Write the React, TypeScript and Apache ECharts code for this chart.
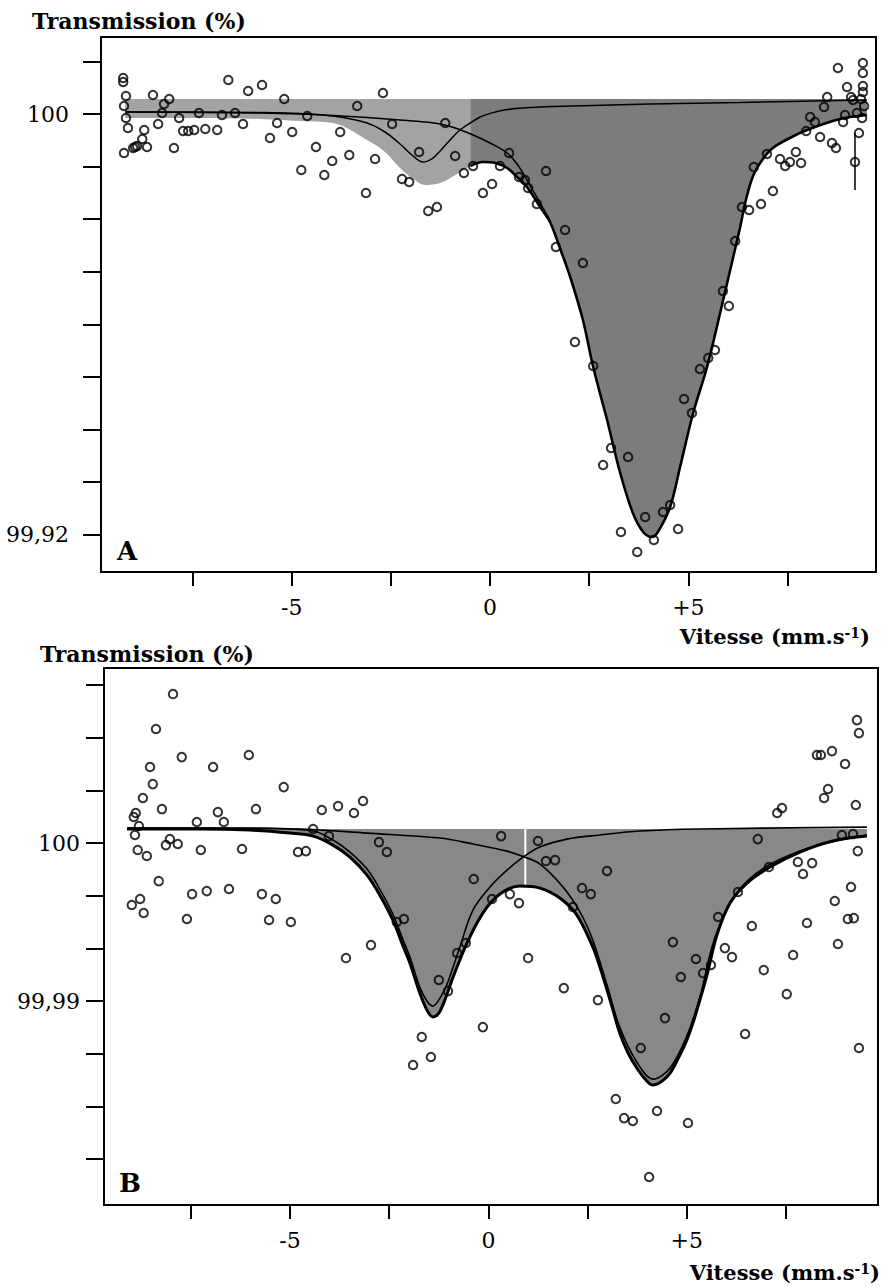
import React, { useEffect, useRef } from 'react';
import * as echarts from 'echarts';

// ---------- axes ----------
const velocityTicks = [-7.5, -5, -2.5, 0, 2.5, 5, 7.5];
const velocityLabels = [-5, 0, 5];
const transTicksA = [99.92, 99.93, 99.94, 99.95, 99.96, 99.97, 99.98, 99.99, 100, 100.01];
const transLabelsA = [99.92, 100];
const transTicksB = [99.98, 99.98333, 99.98667, 99.99, 99.99333, 99.99667, 100, 100.00333, 100.00667, 100.01];
const transLabelsB = [99.99, 100];
const rangeA = { xMin: -9.81, xMax: 9.73, yMin: 99.91293, yMax: 100.01464 };
const rangeB = { xMin: -9.69, xMax: 9.82, yMin: 99.97709, yMax: 100.01108 };
const shadeTopA = 100.00285;
const shadeTopB = 100.00089;
const shadeSplitA = -0.5;

// ---------- panel A ----------
const scatterA: [number, number][] = [
  [-9.25, 100.00684], [-9.25, 100.00608], [-9.18, 100.00342], [-9.23, 100.00152], [-9.18, 99.99924],
  [-9.13, 99.99734], [-9.23, 99.99259], [-9.0, 99.99354], [-8.95, 99.99373], [-8.9, 99.99392],
  [-8.77, 99.99525], [-8.72, 99.99696], [-8.65, 99.99373], [-8.5, 100.00361], [-8.37, 99.9981],
  [-8.27, 100.00019], [-8.22, 100.0019], [-8.09, 100.00285], [-7.97, 99.99354], [-7.84, 99.99924],
  [-7.74, 99.99677], [-7.61, 99.99677], [-7.46, 99.99696], [-7.34, 100.00019], [-7.18, 99.99715],
  [-6.88, 99.99696], [-6.76, 99.99981], [-6.6, 100.00646], [-6.43, 100.00019], [-6.23, 99.9981],
  [-6.1, 100.00437], [-5.75, 100.00551], [-5.55, 99.99544], [-5.37, 99.99829], [-5.19, 100.00285],
  [-4.99, 99.99658], [-4.76, 99.98935], [-4.61, 99.99962], [-4.39, 99.99373], [-4.18, 99.9884],
  [-3.98, 99.99106], [-3.78, 99.99658], [-3.55, 99.99221], [-3.35, 100.00152], [-3.13, 99.98498],
  [-2.9, 99.99145], [-2.7, 100.00399], [-2.47, 99.9981], [-2.22, 99.98764], [-2.04, 99.98707],
  [-1.79, 99.99278], [-1.56, 99.98156], [-1.34, 99.98232], [-1.13, 99.99829], [-0.88, 99.99202],
  [-0.66, 99.98878], [-0.43, 99.99011], [-0.18, 99.98498], [0.05, 99.98669], [0.25, 99.99011],
  [0.48, 99.99259], [0.73, 99.98802], [0.88, 99.98745], [0.96, 99.98593], [1.18, 99.98289],
  [1.41, 99.98916], [1.66, 99.97472], [1.89, 99.97795], [2.34, 99.97167], [2.14, 99.95665],
  [2.6, 99.95209], [3.05, 99.9365], [3.48, 99.93479], [2.85, 99.93327], [3.71, 99.91673],
  [3.3, 99.92053], [3.91, 99.92339], [4.13, 99.91901], [4.36, 99.92434], [4.54, 99.92567],
  [4.74, 99.9211], [4.89, 99.94582], [5.09, 99.94316], [5.29, 99.95152], [5.5, 99.95361],
  [5.67, 99.95513], [5.87, 99.96635], [6.02, 99.9635], [6.18, 99.97586], [6.35, 99.98232],
  [6.53, 99.98175], [6.65, 99.98992], [6.83, 99.98289], [6.98, 99.9924], [7.13, 99.98536],
  [7.31, 99.99145], [7.44, 99.99011], [7.56, 99.99087], [7.71, 99.99278], [7.84, 99.99068],
  [7.97, 99.99677], [8.07, 99.99943], [8.19, 99.99848], [8.32, 99.99563], [8.42, 100.00133],
  [8.5, 100.00323], [8.62, 99.99449], [8.72, 99.99354], [8.77, 100.00874], [8.9, 99.99848],
  [8.95, 99.99981], [9.0, 100.00513], [9.1, 100.00323], [9.15, 100.00266], [9.25, 100.00019],
  [9.3, 99.99639], [9.2, 99.99087], [9.35, 100.00285], [9.38, 99.99924], [9.4, 100.0097],
  [9.4, 100.00779], [9.4, 100.00532], [9.4, 100.00418], [9.43, 100.00152],
];
const errorBarA: [number, number][] = [[9.2, 99.98555], [9.2, 99.99639]];
const shadeLowA: [number, number][] = [
  [-9.2, 99.99924], [-7.31, 99.99924], [-5.8, 99.99905], [-4.79, 99.99867], [-3.96, 99.99829],
  [-3.1, 99.99506], [-2.65, 99.99278], [-2.27, 99.98973], [-1.97, 99.98783], [-1.64, 99.9865],
  [-1.26, 99.98688], [-0.88, 99.9884], [-0.5, 99.99011], [-0.18, 99.99087], [0.13, 99.99068],
  [0.43, 99.98973], [0.68, 99.98802], [0.93, 99.98612], [1.26, 99.98232], [1.51, 99.97947],
  [1.76, 99.97453], [2.02, 99.96901], [2.34, 99.96084], [2.6, 99.9519], [2.95, 99.94183],
  [3.28, 99.93175], [3.6, 99.92415], [3.86, 99.92053], [4.08, 99.91958], [4.23, 99.92053],
  [4.54, 99.92529], [4.79, 99.93289], [5.12, 99.94316], [5.47, 99.9519], [5.8, 99.96217],
  [6.13, 99.97281], [6.3, 99.97833], [6.45, 99.98365], [6.63, 99.98821], [6.86, 99.99125],
  [7.13, 99.99354], [7.56, 99.99544], [7.99, 99.99696], [8.82, 99.99905], [9.5, 99.99981],
];
const comp1A: [number, number][] = [
  [-9.2, 100.00038], [-7.31, 100.00038], [-5.8, 100.00029], [-4.79, 100.0001], [-3.96, 99.99962],
  [-3.1, 99.99829], [-2.65, 99.99658], [-2.27, 99.9943], [-1.97, 99.99221], [-1.69, 99.99087],
  [-1.44, 99.99163], [-1.26, 99.99297], [-1.01, 99.99506], [-0.76, 99.99696], [-0.5, 99.99829],
  [-0.25, 99.99943], [0.13, 100.00038], [0.43, 100.00086], [1.01, 100.00124], [2.09, 100.00152],
  [4.03, 100.0019], [6.3, 100.00219], [8.82, 100.00257], [9.5, 100.00266],
];
const comp2A: [number, number][] = [
  [-9.2, 100.00038], [-7.31, 100.00029], [-5.8, 100.00019], [-4.79, 100.0], [-3.96, 99.99971],
  [-3.1, 99.99933], [-2.27, 99.99886], [-1.64, 99.99848], [-1.26, 99.9981], [-0.88, 99.99734],
  [-0.43, 99.99601], [0.0, 99.99449], [0.43, 99.99259], [0.68, 99.99049], [0.93, 99.98745],
  [1.26, 99.98308], [1.51, 99.97985],
];

// ---------- panel B ----------
const scatterB: [number, number][] = [
  [-7.95, 100.00943], [-8.38, 100.00722], [-7.73, 100.00544], [-8.53, 100.00481], [-6.94, 100.00481],
  [-6.04, 100.00557], [9.29, 100.00778], [9.34, 100.00696], [8.28, 100.00557], [8.38, 100.00557],
  [8.66, 100.00582], [8.99, 100.005], [-8.46, 100.00373], [-8.71, 100.00285], [-5.16, 100.00354],
  [-8.89, 100.0019], [-8.94, 100.00165], [-8.23, 100.00215], [-6.82, 100.00196], [-5.86, 100.00215],
  [-4.2, 100.00209], [-3.79, 100.00234], [-3.39, 100.0019], [-3.16, 100.00266], [-7.35, 100.00133],
  [-6.67, 100.00133], [-8.81, 100.00108], [-4.42, 100.00089], [-8.91, 100.00051], [-4.02, 100.00044],
  [-8.03, 100.00025], [-8.13, 99.99987], [-7.83, 99.99994], [-2.76, 100.00006], [-2.56, 99.99943],
  [-8.84, 99.99956], [-7.25, 99.99956], [-6.21, 99.99962], [-4.8, 99.99943], [-4.6, 99.99949],
  [-8.61, 99.99918], [-8.31, 99.99759], [-7.47, 99.99677], [-7.1, 99.99696], [-6.54, 99.99709],
  [-5.71, 99.99677], [-5.36, 99.99646], [-8.78, 99.99646], [-8.99, 99.99608], [-8.69, 99.99557],
  [-7.6, 99.99519], [-5.53, 99.99513], [-4.98, 99.995], [-2.13, 99.99519], [-2.31, 99.995],
  [-2.96, 99.99354], [-3.59, 99.99272], [-1.25, 99.99133], [-1.68, 99.98772], [-1.45, 99.98646],
  [-1.9, 99.98595], [8.56, 100.00342], [8.46, 100.00285], [9.26, 100.00241], [7.4, 100.00222],
  [7.28, 100.0019], [0.32, 100.00044], [1.25, 100.00013], [6.79, 100.00025], [8.91, 100.00051],
  [9.19, 100.00057], [9.31, 99.99949], [1.45, 99.99886], [1.68, 99.99892], [7.8, 99.9988],
  [8.16, 99.99873], [7.93, 99.99804], [7.07, 99.99848], [-0.37, 99.99772], [2.99, 99.99823],
  [2.36, 99.99715], [2.58, 99.99677], [9.14, 99.99722], [0.09, 99.99646], [0.54, 99.99677],
  [0.77, 99.9962], [2.13, 99.99595], [6.29, 99.9969], [8.73, 99.99633], [5.79, 99.99532],
  [6.64, 99.99475], [8.03, 99.99494], [9.06, 99.99519], [9.21, 99.99525], [4.65, 99.99373],
  [8.81, 99.99361], [5.96, 99.99335], [6.14, 99.99278], [5.23, 99.99266], [7.68, 99.99291],
  [-0.57, 99.99367], [-0.79, 99.99304], [1.0, 99.99272], [5.61, 99.99228], [5.41, 99.99177],
  [6.94, 99.99196], [4.85, 99.99152], [1.9, 99.99082], [7.52, 99.99044], [2.76, 99.99006],
  [-1.02, 99.99063], [-0.14, 99.98835], [4.45, 99.98892], [3.84, 99.98703], [6.47, 99.98791],
  [9.34, 99.98703], [3.21, 99.9838], [3.42, 99.98259], [3.64, 99.98241], [4.25, 99.98304],
  [5.03, 99.98228], [4.05, 99.97886],
];
const envelopeB: [number, number][] = [
  [-9.11, 100.00089], [-7.27, 100.00089], [-6.01, 100.00082], [-5.0, 100.00063], [-4.42, 100.00044],
  [-3.92, 99.99987], [-3.49, 99.99911], [-3.06, 99.99797], [-2.74, 99.99671], [-2.41, 99.99513],
  [-2.16, 99.99354], [-1.98, 99.99241], [-1.73, 99.99051], [-1.55, 99.98943], [-1.4, 99.98899],
  [-1.25, 99.98924], [-1.1, 99.99006], [-0.89, 99.99152], [-0.54, 99.99367], [-0.14, 99.99557],
  [0.29, 99.99677], [0.79, 99.99728], [1.3, 99.99715], [1.8, 99.99652], [2.23, 99.99544],
  [2.63, 99.99342], [2.81, 99.99215], [2.99, 99.9907], [3.14, 99.98943], [3.31, 99.98797],
  [3.52, 99.98671], [3.74, 99.98576], [3.95, 99.98506], [4.15, 99.98468], [4.38, 99.98494],
  [4.58, 99.98544], [4.8, 99.98646], [5.0, 99.98753], [5.18, 99.9888], [5.33, 99.99006],
  [5.51, 99.99165], [5.76, 99.99418], [6.09, 99.9962], [6.52, 99.99747], [7.1, 99.99848],
  [7.85, 99.99943], [8.68, 100.00013], [9.54, 100.00044],
];
const comp1B: [number, number][] = [
  [-9.11, 100.00095], [-6.01, 100.00095], [-4.42, 100.00076], [-3.92, 100.00019], [-3.49, 99.99943],
  [-3.06, 99.99835], [-2.74, 99.99709], [-2.41, 99.99551], [-2.16, 99.99392], [-1.98, 99.99278],
  [-1.73, 99.99089], [-1.55, 99.99], [-1.4, 99.98968], [-1.22, 99.99019], [-1.05, 99.99101],
  [-0.72, 99.99342], [-0.39, 99.99576], [0.04, 99.99722], [0.47, 99.99829], [0.84, 99.99905],
  [1.3, 99.99975], [1.98, 100.00025], [2.81, 100.00051], [3.82, 100.00076], [5.33, 100.00089],
  [9.54, 100.00101],
];
const comp2B: [number, number][] = [
  [-9.11, 100.00095], [-6.01, 100.00092], [-4.75, 100.00089], [-3.06, 100.00063], [-1.22, 100.00032],
  [-0.39, 99.99994], [0.47, 99.99949], [0.84, 99.99918], [1.3, 99.99867], [1.88, 99.99722],
  [2.31, 99.99563], [2.63, 99.99386], [2.99, 99.99101], [3.31, 99.98835], [3.74, 99.98614],
  [4.15, 99.98506], [4.58, 99.98576], [5.0, 99.98778], [5.33, 99.99025], [5.76, 99.99437],
  [6.52, 99.99759], [7.85, 99.99949], [9.54, 100.00051],
];
const gapLineB: [number, number][] = [[0.93, 100.00089], [0.93, 99.99728]];

// ---------- styling ----------
const FONT = '"DejaVu Serif", "Liberation Serif", serif';
const transFmt = (v: number) => (v >= 100 ? '100' : v.toFixed(2).replace('.', ','));
const velFmt = (v: number) => (v > 0 ? '+' + v : String(v));

function xAxisCfg(gridIndex: number, r: any) {
  return {
    type: 'value', gridIndex, min: r.xMin, max: r.xMax, position: 'bottom',
    axisLine: { show: true, onZero: false, lineStyle: { color: '#000', width: 2 } },
    axisTick: { show: true, length: 14, lineStyle: { color: '#000', width: 2 }, customValues: velocityTicks },
    axisLabel: { customValues: velocityLabels, formatter: velFmt, margin: 24, fontSize: 22, fontFamily: FONT, color: '#000' },
    splitLine: { show: false },
  };
}
function yAxisCfg(gridIndex: number, r: any, ticks: number[], labels: number[], margin: number) {
  return {
    type: 'value', gridIndex, min: r.yMin, max: r.yMax,
    axisLine: { show: true, onZero: false, lineStyle: { color: '#000', width: 2 } },
    axisTick: { show: true, length: 18, lineStyle: { color: '#000', width: 2 }, customValues: ticks },
    axisLabel: { customValues: labels, formatter: transFmt, margin, fontSize: 22, fontFamily: FONT, color: '#000' },
    splitLine: { show: false },
  };
}
function lineSeries(idx: number, data: [number, number][], width: number, z = 3, color = '#000') {
  return {
    type: 'line', xAxisIndex: idx, yAxisIndex: idx, data, smooth: 0.35, symbol: 'none', z,
    lineStyle: { color, width }, silent: true,
  };
}
function areaSeries(idx: number, data: [number, number][], color: string, origin: number) {
  return {
    type: 'line', xAxisIndex: idx, yAxisIndex: idx, data, smooth: 0.35, symbol: 'none', z: 1,
    lineStyle: { width: 0, opacity: 0 }, areaStyle: { color, opacity: 1, origin }, silent: true,
  };
}
function scatterSeries(idx: number, data: [number, number][]) {
  return {
    type: 'scatter', xAxisIndex: idx, yAxisIndex: idx, data, symbol: 'circle', symbolSize: 8.5, z: 5,
    itemStyle: { color: 'rgba(255,255,255,0)', borderColor: '#000', borderWidth: 2 }, silent: true,
  };
}

export default function App() {
  const ref = useRef<HTMLDivElement>(null);
  useEffect(() => {
    const chart = echarts.init(ref.current as HTMLDivElement, null, { renderer: 'svg' });
    const bold = (size: number) => `bold ${size}px ${FONT}`;
    const vitesse = (x: number, y: number) => ({
      type: 'text', x, y,
      style: {
        text: '{n|Vitesse (mm.s}{s|-1}{n|)}', align: 'right', verticalAlign: 'middle', fill: '#000',
        rich: { n: { font: bold(21), fill: '#000' }, s: { font: bold(14), fill: '#000', verticalAlign: 'top' } },
      },
    });
    chart.setOption({
      animation: false,
      backgroundColor: '#fff',
      grid: [
        { left: 101, top: 37, width: 775, height: 535, show: true, borderColor: '#000', borderWidth: 2 },
        { left: 104, top: 668, width: 774, height: 537, show: true, borderColor: '#000', borderWidth: 2 },
      ],
      xAxis: [xAxisCfg(0, rangeA), xAxisCfg(1, rangeB)],
      yAxis: [
        yAxisCfg(0, rangeA, transTicksA, transLabelsA, 32),
        yAxisCfg(1, rangeB, transTicksB, transLabelsB, 24),
      ],
      series: [
        areaSeries(0, shadeLowA.filter((p) => p[0] <= shadeSplitA), '#a3a3a3', shadeTopA),
        areaSeries(0, shadeLowA.filter((p) => p[0] >= shadeSplitA), '#7c7c7c', shadeTopA),
        lineSeries(0, comp1A, 1.5),
        lineSeries(0, comp2A, 1.5),
        lineSeries(0, shadeLowA.filter((p) => p[0] >= shadeSplitA), 2.6),
        { ...lineSeries(0, errorBarA, 1.5), smooth: false },
        scatterSeries(0, scatterA),

        areaSeries(1, envelopeB, '#888888', shadeTopB),
        { ...lineSeries(1, gapLineB, 2, 2, '#ffffff'), smooth: false },
        lineSeries(1, comp1B, 1.6),
        lineSeries(1, comp2B, 1.6),
        lineSeries(1, envelopeB, 3),
        scatterSeries(1, scatterB),
      ],
      graphic: [
        { type: 'text', x: 32, y: 21, style: { text: 'Transmission (%)', font: bold(22), fill: '#000', align: 'left', verticalAlign: 'middle' } },
        { type: 'text', x: 40, y: 654, style: { text: 'Transmission (%)', font: bold(22), fill: '#000', align: 'left', verticalAlign: 'middle' } },
        { type: 'text', x: 117, y: 551, style: { text: 'A', font: bold(26), fill: '#000', align: 'left', verticalAlign: 'middle' } },
        { type: 'text', x: 119, y: 1183, style: { text: 'B', font: bold(26), fill: '#000', align: 'left', verticalAlign: 'middle' } },
        vitesse(870, 636),
        vitesse(880, 1272),
      ],
    });
    return () => chart.dispose();
  }, []);
  return <div ref={ref} style={{ position: 'absolute', left: 0, top: 0, width: 884, height: 1287, background: '#fff' }} />;
}
